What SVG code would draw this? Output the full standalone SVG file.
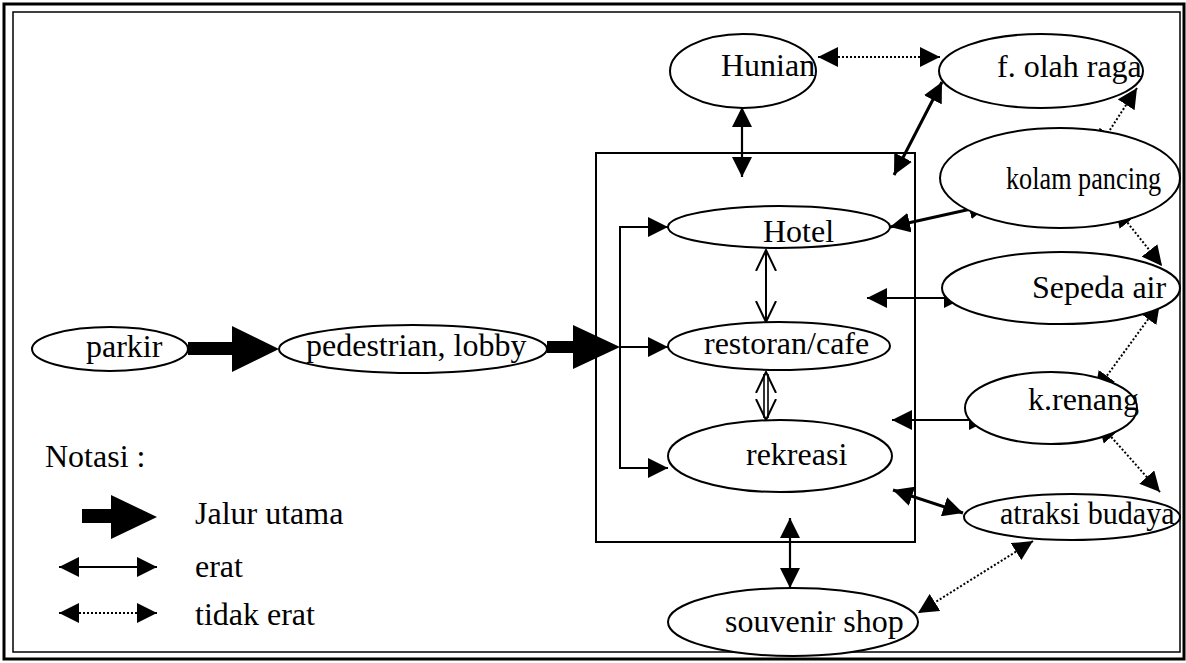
<svg xmlns="http://www.w3.org/2000/svg" width="1186" height="663" viewBox="0 0 1186 663">
<style>
.n{fill:#fff;stroke:#000;stroke-width:2}
.t{font-family:"Liberation Serif","Times New Roman",serif;font-size:32px;fill:#000}
.e{fill:none;stroke:#000;stroke-width:2.2;marker-start:url(#h);marker-end:url(#h)}
.d{fill:none;stroke:#000;stroke-width:2;stroke-dasharray:2 2;marker-start:url(#h);marker-end:url(#h)}
.f{fill:none;stroke:#000;stroke-width:2;marker-end:url(#h)}
.o{fill:none;stroke:#000;stroke-width:2;marker-start:url(#v);marker-end:url(#v)}
.b{fill:#000;stroke:none}
</style>
<defs>
<marker id="h" viewBox="0 0 20 20" refX="20" refY="10" markerWidth="20" markerHeight="20" markerUnits="userSpaceOnUse" orient="auto-start-reverse"><path d="M0,0 L20,10 L0,20 Z" fill="#000"/></marker>
<marker id="v" viewBox="0 0 22 22" refX="21" refY="11" markerWidth="22" markerHeight="22" markerUnits="userSpaceOnUse" orient="auto-start-reverse"><path d="M0,1 L21,11 L0,21" fill="none" stroke="#000" stroke-width="2"/></marker>
</defs>
<rect width="1186" height="663" fill="#fff"/>
<g id="frame" fill="none" stroke="#000">
<rect x="4" y="4" width="1180" height="655" stroke-width="3"/>
<rect x="13" y="12" width="1167" height="640" stroke-width="1.5"/>
<rect x="596" y="153" width="319" height="389" stroke-width="2"/>
</g>
<g id="connectors">
<line class="e" x1="742" y1="107" x2="742" y2="177"/>
<line class="d" x1="818" y1="57" x2="940" y2="57"/>
<line class="e" x1="942" y1="82" x2="894" y2="175" style="stroke-width:3"/>
<line class="e" x1="890" y1="227" x2="989" y2="205" style="stroke-width:3"/>
<line class="d" x1="1137" y1="88" x2="1097" y2="150"/>
<line class="d" x1="1115" y1="207" x2="1162" y2="266"/>
<line class="e" x1="867" y1="298" x2="964" y2="298"/>
<line class="d" x1="1160" y1="303" x2="1095" y2="392"/>
<line class="e" x1="892" y1="420" x2="989" y2="420"/>
<line class="d" x1="1098" y1="422" x2="1160" y2="492"/>
<line class="e" x1="893" y1="490" x2="963" y2="513" style="stroke-width:3"/>
<line class="d" x1="1033" y1="541" x2="918" y2="613"/>
<line class="e" x1="790" y1="518" x2="790" y2="588"/>
<line class="o" x1="766" y1="250" x2="766" y2="322"/>
<line class="o" x1="766" y1="372" x2="766" y2="420" style="stroke:none"/>
<path d="M764,374 V418 M768,374 V418" fill="none" stroke="#000" stroke-width="1.6"/>
<polyline class="f" points="668,227 620,227 620,468 668,468" style="marker-start:url(#h);marker-end:url(#h)"/>
<line class="f" x1="620" y1="347" x2="668" y2="347"/>
<path class="b" d="M188,342 H232 V326 L279,349 L232,372 V355 H188 Z"/>
<path class="b" d="M547,341 H573 V325 L620,347 L573,369 V353 H547 Z"/>
</g>
<g id="hunian"><ellipse class="n" cx="743" cy="71" rx="73" ry="37"/><text class="t" x="721" y="76">Hunian</text></g>
<g id="olahraga"><ellipse class="n" cx="1041" cy="71" rx="102" ry="37"/><text class="t" x="997" y="77">f. olah raga</text></g>
<g id="kolam"><ellipse class="n" cx="1060" cy="178" rx="120" ry="50"/><text class="t" transform="translate(1006,189) scale(0.82,1)">kolam pancing</text></g>
<g id="hotel"><ellipse class="n" cx="779" cy="227" rx="111" ry="21"/><text class="t" x="763" y="242">Hotel</text></g>
<g id="sepeda"><ellipse class="n" cx="1061" cy="288" rx="119" ry="36"/><text class="t" x="1032" y="298">Sepeda air</text></g>
<g id="restoran"><ellipse class="n" cx="779" cy="346" rx="111" ry="24"/><text class="t" x="704" y="354">restoran/cafe</text></g>
<g id="parkir"><ellipse class="n" cx="110" cy="349" rx="78" ry="22"/><text class="t" x="86" y="357">parkir</text></g>
<g id="pedestrian"><ellipse class="n" cx="413" cy="349" rx="134" ry="24"/><text class="t" x="306" y="356">pedestrian, lobby</text></g>
<g id="krenang"><ellipse class="n" cx="1051" cy="408" rx="86" ry="36"/><text class="t" x="1028" y="410">k.renang</text></g>
<g id="rekreasi"><ellipse class="n" cx="780" cy="456" rx="112" ry="36"/><text class="t" x="746" y="465">rekreasi</text></g>
<g id="atraksi"><ellipse class="n" cx="1072" cy="517" rx="108" ry="23"/><text class="t" transform="translate(1000,524) scale(0.94,1)">atraksi budaya</text></g>
<g id="souvenir"><ellipse class="n" cx="793" cy="622" rx="125" ry="34"/><text class="t" x="725" y="632">souvenir shop</text></g>
<g id="legend">
<text class="t" x="45" y="467">Notasi :</text>
<path class="b" d="M82,509 H111 V495 L157,517 L111,539 V523 H82 Z"/>
<text class="t" x="195" y="524">Jalur utama</text>
<line class="e" x1="59" y1="567" x2="157" y2="567"/>
<text class="t" x="195" y="577">erat</text>
<line class="d" x1="59" y1="613" x2="157" y2="613"/>
<text class="t" x="195" y="625">tidak erat</text>
</g>
</svg>
